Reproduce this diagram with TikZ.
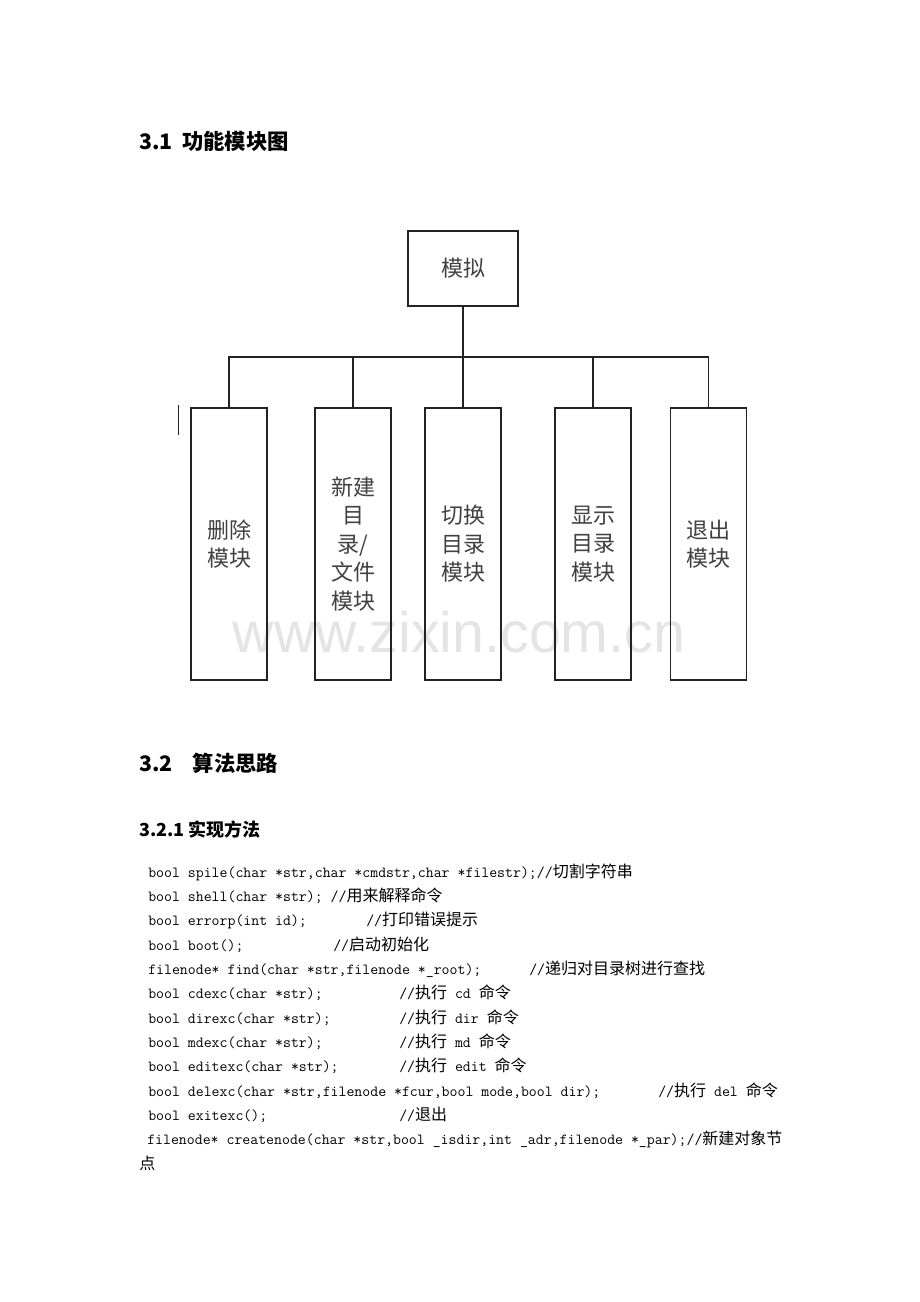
\documentclass[tikz,border=0pt]{standalone}
\usepackage{fontspec}
\newfontfamily\cjk{Noto Sans CJK SC}
\newfontfamily\wmfont{Liberation Sans}
\newcommand{\zhc}[1]{{\cjk\fontsize{12}{14}\selectfont #1}}
\definecolor{boxline}{HTML}{222222}
\definecolor{labelgray}{HTML}{404040}
\definecolor{wmgray}{HTML}{E4E4E4}
\tikzset{
  topbox/.style={draw=boxline, line width=1.2pt, minimum width=82.5pt, minimum height=56.25pt, inner sep=0pt,
    text=labelgray, font=\cjk\fontsize{16.5}{21.4}\selectfont},
  modbox/.style={draw=boxline, line width=1.2pt, minimum width=57pt, minimum height=204pt, inner sep=0pt,
    align=center, text=labelgray, font=\cjk\fontsize{16.5}{21.4}\selectfont},
  conn/.style={draw=boxline, line width=1.1pt},
  heading/.style={anchor=base west, inner sep=0pt, font=\cjk\bfseries\fontsize{16}{18}\selectfont},
  subheading/.style={anchor=base west, inner sep=0pt, font=\cjk\bfseries\fontsize{13.5}{16}\selectfont},
  codeline/.style={anchor=base west, inner sep=0pt, font=\ttfamily\fontsize{11.55}{14}\selectfont},
  comment/.style={anchor=base west, inner sep=0pt, font=\ttfamily\fontsize{11.55}{14}\selectfont}
}
\begin{document}
\begin{tikzpicture}[x=0.75pt,y=-0.75pt]
\useasboundingbox (0,0) rectangle (920,1302);
\fill[white] (0,0) rectangle (920,1302);

% watermark
\node[anchor=base, inner sep=0pt, text=wmgray, font=\wmfont\fontsize{43}{43}\selectfont] (wm) at (459,652) {www.zixin.com.cn};

% headings
\node[heading] (h31) at (139,150) {3.1\hspace{7pt}功能模块图};
\node[heading] (h32) at (139,771) {3.2\hspace{15pt}算法思路};
\node[subheading] (h321) at (139,836) {3.2.1\hspace{3pt}实现方法};

% tree
\node[topbox] (top) at (463,268.5) {模拟};
\node[modbox] (b1) at (229,544) {删除\\模块};
\node[modbox] (b2) at (353,544) {新建\\目\\录/\\文件\\模块};
\node[modbox] (b3) at (463,544) {切换\\目录\\模块};
\node[modbox] (b4) at (593,544) {显示\\目录\\模块};
\node[modbox] (b5) at (708.5,544) {退出\\模块};
\coordinate (bus) at (463,357);
\draw[conn] (top.south) -- (bus);
\draw[conn] (b1.north) -- (b1.north |- bus) -- (b5.north |- bus) -- (b5.north);
\draw[conn] (b2.north) -- (b2.north |- bus);
\draw[conn] (b3.north) -- (b3.north |- bus);
\draw[conn] (b4.north) -- (b4.north |- bus);
\draw[boxline, line width=1pt] (178.5,405) -- (178.5,435);

% code lines
\node[codeline] (c1) at (148,877) {bool spile(char *str,char *cmdstr,char *filestr);//\zhc{切割字符串}};
\node[codeline] (c2) at (148,901.3) {bool shell(char *str); //\zhc{用来解释命令}};
\node[codeline] (c3) at (148,925.7) {bool errorp(int id);};
\node[comment] (m3) at (366,925.7) {//\zhc{打印错误提示}};
\node[codeline] (c4) at (148,950) {bool boot();};
\node[comment] (m4) at (333,950) {//\zhc{启动初始化}};
\node[codeline] (c5) at (148,974.3) {filenode* find(char *str,filenode *\_root);};
\node[comment] (m5) at (529,974.3) {//\zhc{递归对目录树进行查找}};
\node[codeline] (c6) at (148,998.7) {bool cdexc(char *str);};
\node[comment] (m6) at (399,998.7) {//\zhc{执行} cd \zhc{命令}};
\node[codeline] (c7) at (148,1023) {bool direxc(char *str);};
\node[comment] (m7) at (399,1023) {//\zhc{执行} dir \zhc{命令}};
\node[codeline] (c8) at (148,1047.3) {bool mdexc(char *str);};
\node[comment] (m8) at (399,1047.3) {//\zhc{执行} md \zhc{命令}};
\node[codeline] (c9) at (148,1071.7) {bool editexc(char *str);};
\node[comment] (m9) at (399,1071.7) {//\zhc{执行} edit \zhc{命令}};
\node[codeline] (c10) at (148,1096) {bool delexc(char *str,filenode *fcur,bool mode,bool dir);};
\node[comment] (m10) at (658,1096) {//\zhc{执行} del \zhc{命令}};
\node[codeline] (c11) at (148,1120.3) {bool exitexc();};
\node[comment] (m11) at (399,1120.3) {//\zhc{退出}};
\node[codeline] (c12) at (147,1144.7) {filenode* createnode(char *str,bool \_isdir,int \_adr,filenode *\_par);//\zhc{新建对象节}};
\node[codeline] (c13) at (139,1169) {\zhc{点}};
\end{tikzpicture}
\end{document}
